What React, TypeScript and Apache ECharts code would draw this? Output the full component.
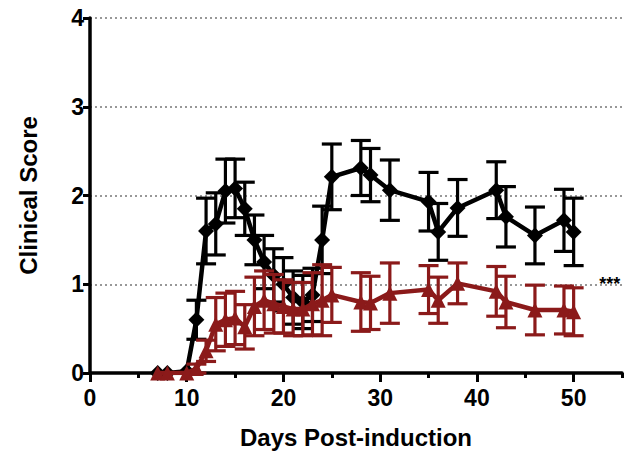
import React, { useEffect, useRef } from "react";
import * as echarts from "echarts";

const days = [7, 8, 10, 11, 12, 13, 14, 15, 16, 17, 18, 19, 20, 21, 22, 23, 24, 25, 28, 29, 31, 35, 36, 38, 42, 43, 46, 49, 50];
const blackMean = [0, 0, 0.02, 0.6, 1.6, 1.68, 2.05, 2.08, 1.85, 1.5, 1.25, 1.1, 1.0, 0.85, 0.8, 0.88, 1.5, 2.21, 2.31, 2.23, 2.06, 1.93, 1.59, 1.86, 2.06, 1.76, 1.55, 1.72, 1.59];
const blackErr = [0, 0, 0.02, 0.22, 0.37, 0.35, 0.36, 0.33, 0.3, 0.28, 0.3, 0.3, 0.3, 0.3, 0.3, 0.3, 0.38, 0.37, 0.31, 0.3, 0.34, 0.33, 0.32, 0.32, 0.32, 0.34, 0.32, 0.35, 0.38];
const redMean = [0, 0, 0, 0.05, 0.25, 0.55, 0.6, 0.62, 0.52, 0.75, 0.82, 0.78, 0.75, 0.72, 0.72, 0.78, 0.82, 0.88, 0.8, 0.79, 0.9, 0.94, 0.82, 1.01, 0.92, 0.8, 0.71, 0.71, 0.69];
const redErr = [0, 0, 0, 0.05, 0.12, 0.3, 0.3, 0.3, 0.25, 0.33, 0.33, 0.33, 0.3, 0.3, 0.3, 0.35, 0.4, 0.31, 0.33, 0.3, 0.34, 0.27, 0.26, 0.23, 0.28, 0.29, 0.28, 0.27, 0.27];

const xMajorTicks = [0, 10, 20, 30, 40, 50];
const xMinorTicks = [5, 15, 25, 35, 45, 55];
const yTicks = [0, 1, 2, 3, 4];
const sigX = [52.6];
const sigY = [1.0];
const sigText = "***";

const FONT = "'Liberation Sans', Arial, sans-serif";
const RED = "#8b1a1a";

function errorSeries(mean: number[], err: number[], color: string, z: number) {
  return {
    type: "custom",
    xAxisIndex: 0,
    yAxisIndex: 0,
    z,
    data: days.map((d, i) => [d, mean[i], err[i]]),
    renderItem: (params: any, api: any) => {
      const x = api.value(0);
      const y = api.value(1);
      const e = api.value(2);
      if (!e || e < 0.04) return null;
      const top = api.coord([x, y + e]);
      const bot = api.coord([x, Math.max(0, y - e)]);
      const hw = 10;
      const style = { stroke: color, lineWidth: 3.2 };
      return {
        type: "group",
        children: [
          { type: "line", shape: { x1: top[0], y1: top[1], x2: bot[0], y2: bot[1] }, style },
          { type: "line", shape: { x1: top[0] - hw, y1: top[1], x2: top[0] + hw, y2: top[1] }, style },
          { type: "line", shape: { x1: bot[0] - hw, y1: bot[1], x2: bot[0] + hw, y2: bot[1] }, style },
        ],
      };
    },
  };
}

export default function App() {
  const ref = useRef<HTMLDivElement>(null);
  useEffect(() => {
    if (!ref.current) return;
    const chart = echarts.init(ref.current, null, { renderer: "svg" });
    const labelStyle = { color: "#000", fontWeight: "bold", fontSize: 23, fontFamily: FONT };
    chart.setOption({
      animation: false,
      backgroundColor: "#fff",
      grid: { left: 90, right: 9, top: 18, bottom: 90 },
      xAxis: [
        {
          type: "value",
          position: "bottom",
          min: 0,
          max: 55,
          name: "Days Post-induction",
          nameLocation: "middle",
          nameGap: 52,
          nameTextStyle: { ...labelStyle, fontSize: 24 },
          axisLine: { show: true, lineStyle: { color: "#000", width: 3.5, cap: "round" } },
          axisTick: { show: true, length: 9, customValues: xMajorTicks, lineStyle: { color: "#000", width: 3 } },
          axisLabel: { ...labelStyle, margin: 13, customValues: xMajorTicks },
          splitLine: { show: false },
        },
        {
          type: "value",
          position: "bottom",
          min: 0,
          max: 55,
          axisLine: { show: false },
          axisTick: { show: true, length: 5, customValues: xMinorTicks, lineStyle: { color: "#000", width: 3 } },
          axisLabel: { show: false },
          splitLine: { show: false },
        },
      ],
      yAxis: {
        type: "value",
        min: 0,
        max: 4,
        interval: 1,
        name: "Clinical Score",
        nameLocation: "middle",
        nameGap: 50,
        nameTextStyle: { ...labelStyle, fontSize: 24 },
        axisLine: { show: true, lineStyle: { color: "#000", width: 3.5 } },
        axisTick: { show: true, length: 7, customValues: yTicks, lineStyle: { color: "#000", width: 3 } },
        axisLabel: { ...labelStyle, margin: 6, customValues: yTicks },
        splitLine: { show: true, lineStyle: { color: "#777", width: 1.5, type: [2, 3] } },
      },
      series: [
        errorSeries(blackMean, blackErr, "#000", 3),
        {
          type: "line",
          z: 4,
          data: days.map((d, i) => [d, blackMean[i]]),
          symbol: "diamond",
          symbolSize: 16,
          itemStyle: { color: "#000" },
          lineStyle: { color: "#000", width: 4.5 },
          markPoint: {
            symbol: "circle",
            symbolSize: 1,
            itemStyle: { color: "rgba(0,0,0,0)" },
            label: {
              show: true,
              formatter: sigText,
              position: "right",
              distance: 0,
              color: "#000",
              fontSize: 18,
              fontWeight: "bold",
              fontFamily: FONT,
            },
            data: sigX.map((x, i) => ({ coord: [x, sigY[i]] })),
          },
        },
        errorSeries(redMean, redErr, RED, 5),
        {
          type: "line",
          z: 6,
          data: days.map((d, i) => [d, redMean[i]]),
          symbol: "triangle",
          symbolSize: 15,
          itemStyle: { color: RED },
          lineStyle: { color: RED, width: 4.5 },
        },
      ],
    });
    return () => chart.dispose();
  }, []);
  return <div ref={ref} style={{ position: "absolute", left: 0, top: 0, width: 631, height: 463 }} />;
}
